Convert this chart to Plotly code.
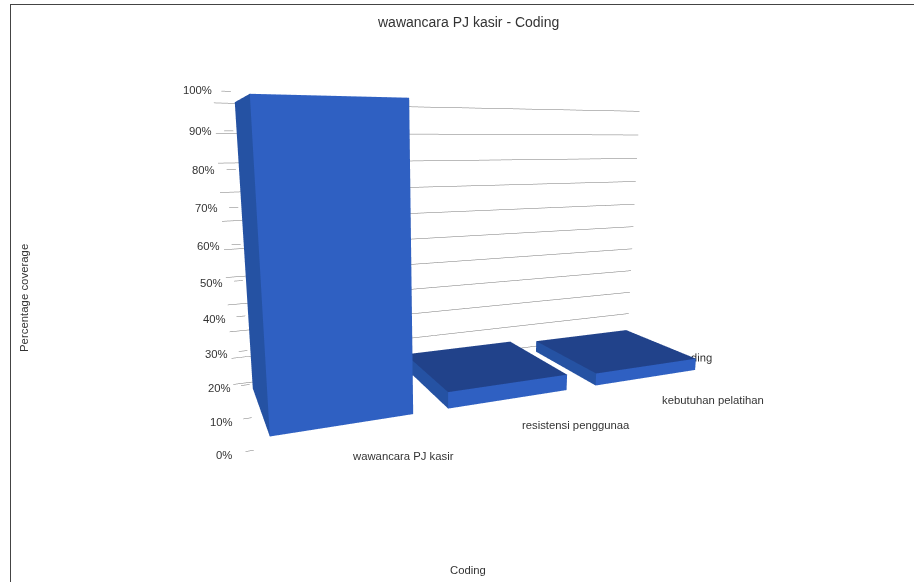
import plotly.graph_objects as go

# Coverage per coded node
categories = ["wawancara PJ kasir", "resistensi penggunaa", "kebutuhan pelatihan"]
coverage = [100, 5.8, 4.6]
tick_values = list(range(0, 101, 10))
tick_labels = [f"{v}%" for v in tick_values]

# Footprint of a bar on the category / depth axes
BAR_HALF = 0.394
BAR_FRONT, BAR_BACK = 0.29, 0.80
WALL_DEPTH = 0.88
AXIS_DEPTH = 0.20

FRONT, SIDE, TOP = "#2f60c2", "#2552a3", "#21428a"
GRID = "#777777"
TEXT = "#333333"
FONT = "Liberation Sans"
W, H = 914, 582


def bar_mesh(center, value):
    x0, x1 = center - BAR_HALF, center + BAR_HALF
    y0, y1 = BAR_FRONT, BAR_BACK
    xs = [x0, x1, x1, x0, x0, x1, x1, x0]
    ys = [y0, y0, y1, y1, y0, y0, y1, y1]
    zs = [0, 0, 0, 0, value, value, value, value]
    faces = [
        (0, 1, 5, FRONT), (0, 5, 4, FRONT),
        (0, 4, 7, SIDE), (0, 7, 3, SIDE),
        (1, 2, 6, SIDE), (1, 6, 5, SIDE),
        (3, 2, 6, SIDE), (3, 6, 7, SIDE),
        (4, 5, 6, TOP), (4, 6, 7, TOP),
        (0, 1, 2, SIDE), (0, 2, 3, SIDE),
    ]
    return go.Mesh3d(
        x=xs, y=ys, z=zs,
        i=[f[0] for f in faces], j=[f[1] for f in faces], k=[f[2] for f in faces],
        facecolor=[f[3] for f in faces],
        flatshading=True,
        lighting=dict(ambient=1, diffuse=0, specular=0, roughness=1, fresnel=0),
        hoverinfo="skip",
        showscale=False,
    )


def page_text(x, y, text, size, angle=0):
    # x and y are given in page pixels measured from the top-left corner
    return dict(x=x / W, y=1 - y / H, xref="paper", yref="paper", text=text, textangle=angle,
                xanchor="center", yanchor="middle", showarrow=False,
                font=dict(family=FONT, size=size, color=TEXT))


def page_line(x0, y0, x1, y1):
    return dict(type="line", xref="paper", yref="paper",
                x0=x0 / W, x1=x1 / W, y0=1 - y0 / H, y1=1 - y1 / H,
                line=dict(color="#444444", width=1))


fig = go.Figure()

# Back wall grid and the short ticks beside the value labels
wall_left, wall_right = -0.5, 2.5
for v in tick_values:
    fig.add_trace(go.Scatter3d(
        x=[wall_left, wall_right], y=[WALL_DEPTH, WALL_DEPTH], z=[v, v],
        mode="lines", line=dict(color=GRID, width=1), hoverinfo="skip", showlegend=False))
    fig.add_trace(go.Scatter3d(
        x=[-0.53, -0.49], y=[AXIS_DEPTH, AXIS_DEPTH], z=[v, v],
        mode="lines", line=dict(color=GRID, width=1), hoverinfo="skip", showlegend=False))

for idx, value in enumerate(coverage):
    fig.add_trace(bar_mesh(idx, value))

# Summary node label sits behind the last bar, so it is drawn inside the scene
fig.add_trace(go.Scatter3d(
    x=[2.6], y=[0.45], z=[-1], mode="text", text=["Coding"], textposition="middle center",
    textfont=dict(family=FONT, size=11.3, color=TEXT),
    hoverinfo="skip", showlegend=False))

label_font = dict(family=FONT, size=11.3, color=TEXT)
scene_notes = [
    dict(x=-0.63, y=AXIS_DEPTH, z=v, text=t, showarrow=False, font=label_font)
    for v, t in zip(tick_values, tick_labels)
]
for c, name in zip([0.18, 1.17, 2.115], categories):
    scene_notes.append(dict(x=c, y=-0.02, z=0, text=name, showarrow=False, yshift=-1, font=label_font))

hidden = dict(visible=False)
fig.update_layout(
    width=W, height=H,
    margin=dict(l=0, r=0, t=0, b=0),
    paper_bgcolor="white",
    showlegend=False,
    scene=dict(
        domain=dict(x=[0, 907 / W], y=[14 / H, 1]),
        xaxis=dict(range=[-1, 3], **hidden),
        yaxis=dict(range=[-0.5, 1.5], **hidden),
        zaxis=dict(range=[-10, 110], **hidden),
        aspectmode="manual",
        aspectratio=dict(x=1.33, y=1.0, z=0.687),
        camera=dict(
            up=dict(x=-0.0045, y=0.0018, z=1),
            eye=dict(x=-0.591, y=-1.25, z=0.21375),
            center=dict(x=-0.0974, y=-0.0503, z=-0.0563),
        ),
        annotations=scene_notes,
    ),
    annotations=[
        page_text(468, 22, "wawancara PJ kasir - Coding", 14),
        page_text(468, 570, "Coding", 11.3),
        page_text(24, 298, "Percentage coverage", 11.4, angle=-90),
    ],
    shapes=[page_line(10, 4.5, W, 4.5), page_line(10.5, 4, 10.5, H)],
)

fig.write_html("out.html", config=dict(displayModeBar=False))
